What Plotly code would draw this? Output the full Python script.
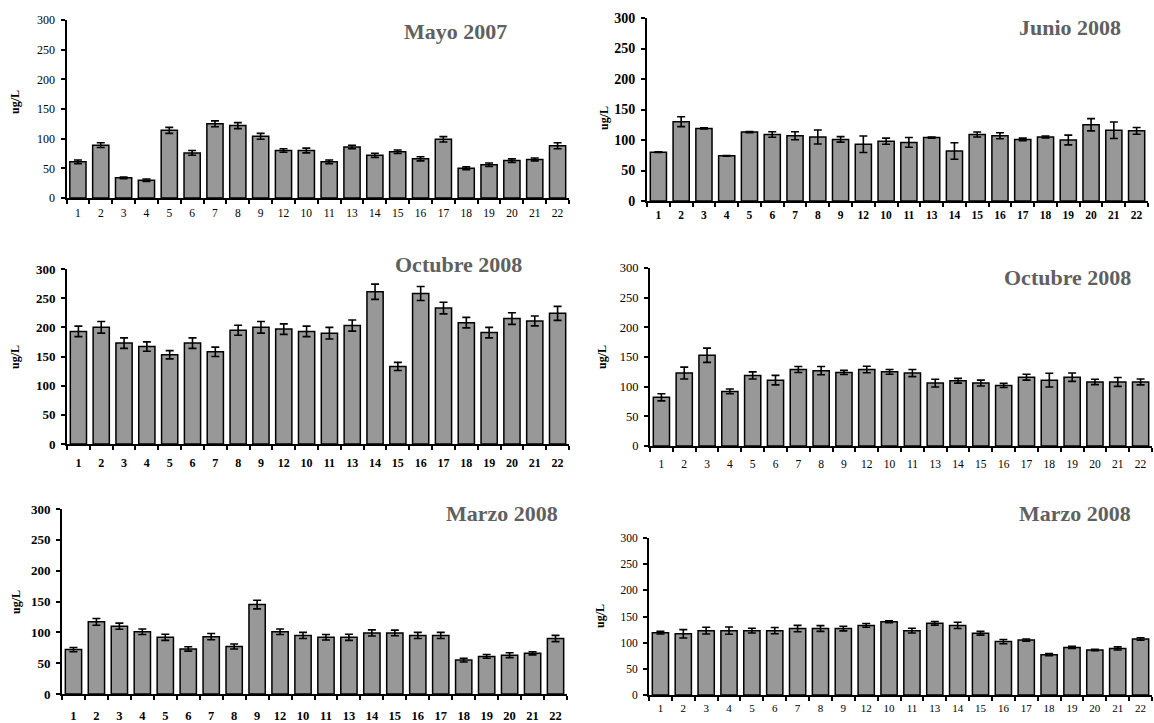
import plotly.graph_objects as go

W, H = 1154, 723

categories = ["1", "2", "3", "4", "5", "6", "7", "8", "9", "12", "10", "11",
              "13", "14", "15", "16", "17", "18", "19", "20", "21", "22"]

titles = ["Mayo 2007", "Junio 2008", "Octubre 2008", "Octubre 2008", "Marzo 2008", "Marzo 2008"]

mayo07_vals = [61, 89, 34, 30, 114, 76, 125, 122, 104, 80, 80, 61, 86, 72, 78, 66, 99, 50, 56, 63, 65, 88]
mayo07_err = [3, 4, 1.5, 2, 5, 4, 5, 5, 5, 3, 4, 3, 3, 3.5, 3, 3.5, 4.5, 2.5, 3, 3, 2.5, 5]

junio08_vals = [80, 130, 119, 74, 113, 109, 107, 105, 101, 93, 98, 96, 104, 82, 109, 107, 101, 105, 100, 125, 116, 115]
junio08_err = [0.5, 8, 1, 0.5, 1, 4.5, 6.5, 11.5, 4.5, 13.5, 5, 8, 1, 13.5, 4, 5, 2, 1.5, 8, 10, 13.5, 5.5]

oct08a_vals = [193, 200, 173, 167, 153, 173, 158, 195, 200, 197, 193, 190, 203, 261, 133, 258, 233, 208, 191, 215, 211, 224]
oct08a_err = [9, 10, 9, 8, 7, 9, 8, 8.5, 10, 9, 9, 10, 9.5, 13, 7, 12, 10, 9, 9, 10, 8.5, 12]

oct08b_vals = [82, 123, 153, 92, 119, 111, 129, 127, 124, 129, 125, 123, 106, 110, 106, 102, 116, 111, 116, 108, 108, 108]
oct08b_err = [6, 10, 12, 4, 6, 8, 5, 7, 3.5, 5.5, 4, 6, 6.5, 4, 5, 3.5, 5, 11.5, 7, 4.5, 7.5, 5]

mar08a_vals = [72, 117, 110, 101, 92, 73, 93, 77, 145, 101, 95, 92, 92, 99, 99, 95, 95, 55, 61, 63, 66, 90]
mar08a_err = [3.5, 5.5, 5, 4.5, 5, 3.5, 5, 4, 7, 4.5, 5, 4.5, 5, 5, 4.5, 5, 5, 3, 3, 4, 2.5, 5]

mar08b_vals = [119, 117, 123, 123, 123, 123, 127, 127, 127, 133, 140, 123, 137, 133, 118, 102, 105, 77, 91, 86, 89, 107]
mar08b_err = [2.5, 8, 6.5, 7, 4.5, 6, 6, 5.5, 4.5, 3.5, 2, 4.5, 3.5, 6, 3.5, 4, 2, 2, 2, 1.5, 3, 2.5]

series = [(mayo07_vals, mayo07_err), (junio08_vals, junio08_err), (oct08a_vals, oct08a_err),
          (oct08b_vals, oct08b_err), (mar08a_vals, mar08a_err), (mar08b_vals, mar08b_err)]

# layout specs (pixel positions)
specs = [
    dict(x0=66.5, x1=569, yt=20, yb=198, bold=False, ys=12, xs=11.5, xso=3, ylx=15, yly=102, tx=455, ty=32),
    dict(x0=647, x1=1148, yt=18, yb=201, bold=True, ys=14, xs=11.5, xso=2, ylx=604, yly=118, tx=1070, ty=28),
    dict(x0=67, x1=569, yt=269, yb=444, bold=True, ys=13, xs=12, xso=7, ylx=15, yly=357, tx=459, ty=264),
    dict(x0=650, x1=1152, yt=268, yb=446, bold=False, ys=12.5, xs=11.5, xso=6, ylx=602, yly=357, tx=1067, ty=277),
    dict(x0=62, x1=567, yt=509, yb=694, bold=True, ys=13, xs=12.5, xso=9, ylx=16, yly=602, tx=502, ty=513),
    dict(x0=649, x1=1152, yt=538, yb=695, bold=False, ys=11.5, xs=11, xso=2, ylx=600, yly=616, tx=1075, ty=513),
]

FONT = "Liberation Serif, Times New Roman, serif"
fig = go.Figure()
layout = dict(template="none", width=W, height=H, margin=dict(l=0, r=0, t=0, b=0, pad=0),
              paper_bgcolor="white", plot_bgcolor="white", showlegend=False,
              bargap=0.29, annotations=[])

for i, ((vals, errs), sp, title) in enumerate(zip(series, specs, titles)):
    n = "" if i == 0 else str(i + 1)
    fig.add_trace(go.Bar(
        x=categories, y=vals,
        xaxis="x" + n, yaxis="y" + n,
        marker=dict(color="#989898", line=dict(color="black", width=1.5)),
        error_y=dict(type="data", array=errs, color="black", thickness=1.6, width=4),
        cliponaxis=False,
    ))
    weight = "bold" if sp["bold"] else "normal"
    layout["xaxis" + n] = dict(
        domain=[sp["x0"] / W, sp["x1"] / W], anchor="y" + n, type="category",
        range=[-0.5, len(categories) - 0.5], showline=True, linecolor="black", linewidth=2,
        ticks="outside", tickson="boundaries", ticklen=4, tickwidth=1.5, tickcolor="black",
        showgrid=False, zeroline=False, ticklabelstandoff=sp["xso"], automargin=False,
        tickfont=dict(family=FONT, size=sp["xs"], color="black", weight=weight),
        fixedrange=True,
    )
    layout["yaxis" + n] = dict(
        domain=[1 - sp["yb"] / H, 1 - sp["yt"] / H], anchor="x" + n,
        range=[0, 300], tickvals=[0, 50, 100, 150, 200, 250, 300],
        showline=True, linecolor="black", linewidth=2, ticks="outside", ticklen=4,
        tickwidth=1.5, tickcolor="black", showgrid=False, zeroline=False, automargin=False,
        tickfont=dict(family=FONT, size=sp["ys"], color="black", weight=weight),
        ticklabelstandoff=3, fixedrange=True,
    )
    layout["annotations"].append(dict(
        text="<b>ug/L</b>", x=sp["ylx"] / W, y=1 - sp["yly"] / H, xref="paper", yref="paper",
        textangle=-90, showarrow=False, xanchor="center", yanchor="middle",
        font=dict(family=FONT, size=12, color="black")))
    layout["annotations"].append(dict(
        text="<b>" + title + "</b>", x=sp["tx"] / W, y=1 - sp["ty"] / H, xref="paper", yref="paper",
        showarrow=False, xanchor="center", yanchor="middle",
        font=dict(family=FONT, size=22, color="#606060")))

fig.update_layout(**layout)
fig.write_html("out.html", config={"displayModeBar": False},
               post_script="document.body.style.margin='0';document.body.style.overflow='hidden';")
